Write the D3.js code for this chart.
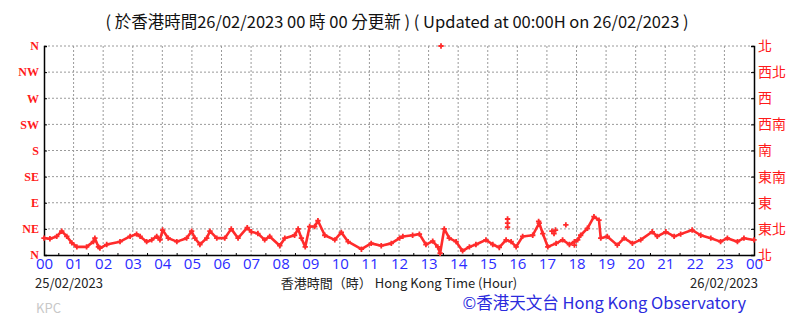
<!DOCTYPE html>
<html>
<head>
<meta charset="UTF-8">
<title>Wind direction KPC</title>
<script src="https://d3js.org/d3.v7.min.js"></script>
<style>
  body { margin:0; background:#fff; }
  svg text { font-family: "Noto Sans CJK TC", "Noto Sans", sans-serif; }
</style>
</head>
<body>
<div id="chart"></div>
<script>
// hours after 00:00 on 25/02/2023, wind direction in degrees
const hours = [0.00,0.20,0.43,0.60,0.77,0.94,1.11,1.44,1.67,1.72,1.84,1.89,2.12,2.57,2.91,3.13,3.25,3.47,3.64,3.81,3.92,
  4.01,4.20,4.49,4.82,4.99,5.10,5.27,5.50,5.61,5.84,6.11,6.33,6.56,6.87,7.01,7.23,7.46,7.63,7.97,8.14,8.47,8.59,8.70,8.83,
  8.98,9.15,9.26,9.49,9.83,10.05,10.28,10.73,11.06,11.40,11.74,12.02,12.13,12.46,12.69,12.91,13.14,13.31,13.39,13.53,13.70,
  13.93,14.15,14.38,14.60,14.94,15.17,15.39,15.62,15.79,15.96,16.18,16.52,16.74,16.86,17.03,17.31,17.53,17.76,18.04,18.14,
  18.37,18.59,18.76,18.82,19.04,19.38,19.61,19.89,20.17,20.56,20.73,21.02,21.30,21.52,21.91,22.20,22.54,22.87,23.10,23.44,
  23.66,24.00];
const direction = [29,28,32,41,32,21,14,14,23,29,14,12,18,23,32,36,32,23,26,32,26,
  43,29,23,29,41,29,18,29,41,29,29,45,29,47,40,37,26,32,16,29,34,45,29,14,
  49,49,59,34,26,39,23,10,20,16,20,29,32,34,36,18,24,14,3,45,29,
  23,7,14,18,26,18,13,26,23,14,32,34,55,37,14,20,26,18,26,34,
  46,66,60,29,32,17,29,20,26,40,32,40,32,36,43,34,29,23,29,23,
  29,26];
// isolated readings away from the main trace
const outlierHours = [13.42,15.67,15.67,15.67,16.72,17.17,17.24,17.29,17.64,17.93,17.93];
const outlierDirection = [360,62,55,48,58,41,37,43,52,17,23];

const dirLabels = ['N','NE','E','SE','S','SW','W','NW','N'];
const dirLabelsZh = ['北','東北','東','東南','南','西南','西','西北','北'];
const hourLabels = ['00','01','02','03','04','05','06','07','08','09','10','11','12',
  '13','14','15','16','17','18','19','20','21','22','23','00'];

const W = 804, H = 317;
const margin = {top:46, right:50, bottom:62, left:44};
const width = W - margin.left - margin.right,
      height = H - margin.top - margin.bottom;

const svg = d3.select('#chart').append('svg')
  .attr('width', W).attr('height', H);

const g = svg.append('g').attr('transform', `translate(${margin.left},${margin.top})`);

const x = d3.scaleLinear().domain([0,24]).range([0,width]);
const y = d3.scaleLinear().domain([0,360]).range([height,0]);

const red = '#ff2b2b';

// grid
g.append('g').selectAll('line')
  .data(d3.range(1,24))
  .enter().append('line')
  .attr('x1', d=>x(d)).attr('x2', d=>x(d))
  .attr('y1', 0).attr('y2', height)
  .attr('stroke','#9a9a9a').attr('stroke-dasharray','2,2');
g.append('g').selectAll('line')
  .data(d3.range(45,361,45))
  .enter().append('line')
  .attr('x1', 0).attr('x2', width)
  .attr('y1', d=>y(d)).attr('y2', d=>y(d))
  .attr('stroke','#9a9a9a').attr('stroke-dasharray','2,2');

// axes
const xAxis = d3.axisBottom(x).tickValues(d3.range(0,24.01,1))
  .tickFormat((d,i)=>hourLabels[i]).tickSize(0).tickPadding(3);
const gx = g.append('g').attr('transform',`translate(0,${height})`).call(xAxis);
gx.select('.domain').attr('stroke','#000').attr('stroke-width',1.5);
gx.selectAll('text').attr('fill','#2b2bff').style('font-family','"Open Sans", "Noto Sans", sans-serif').style('font-size','15px');

// half hour minor ticks
g.append('g').selectAll('line')
  .data(d3.range(0.5,24,1))
  .enter().append('line')
  .attr('x1', d=>x(d)).attr('x2', d=>x(d))
  .attr('y1', height).attr('y2', height-2)
  .attr('stroke','#000');

const yAxisL = d3.axisLeft(y).tickValues(d3.range(0,361,45))
  .tickFormat((d,i)=>dirLabels[i]).tickSize(-3).tickPadding(5);
const gyl = g.append('g').call(yAxisL);
gyl.select('.domain').attr('stroke','#000').attr('stroke-width',1.5);
gyl.selectAll('text').attr('fill','#ff1a1a')
  .style('font-family','"Liberation Serif", "DejaVu Serif", serif').style('font-size','12px')
  .style('font-weight','bold');

const yAxisR = d3.axisRight(y).tickValues(d3.range(0,361,45))
  .tickFormat((d,i)=>dirLabelsZh[i]).tickSize(-3).tickPadding(4);
const gyr = g.append('g').attr('transform',`translate(${width},0)`).call(yAxisR);
gyr.select('.domain').attr('stroke','#000').attr('stroke-width',1.5);
gyr.selectAll('text').attr('fill','#ff1a1a').style('font-size','14px');

// data
const pts = hours.map((h,i)=>({h, d:direction[i]}));
g.append('path').datum(pts)
  .attr('fill','none').attr('stroke',red).attr('stroke-width',2.6)
  .attr('stroke-linejoin','round')
  .attr('d', d3.line().x(p=>x(p.h)).y(p=>y(p.d)));

const plus = d3.symbol().type(d3.symbolCross).size(16);
g.append('g').selectAll('path')
  .data(pts.concat(outlierHours.map((h,i)=>({h, d:outlierDirection[i]}))))
  .enter().append('path')
  .attr('transform', p=>`translate(${x(p.h)},${y(p.d)})`)
  .attr('d', plus).attr('fill',red);

// texts
svg.append('text').attr('x',397).attr('y',28).attr('text-anchor','middle')
  .style('font-size','16.5px').attr('fill','#111')
  .text('( 於香港時間26/02/2023 00 時 00 分更新 )  ( Updated at 00:00H on 26/02/2023 )');
svg.append('text').attr('x',35).attr('y',288)
  .style('font-size','13px').attr('fill','#222').text('25/02/2023');
svg.append('text').attr('x',758).attr('y',288).attr('text-anchor','end')
  .style('font-size','13px').attr('fill','#222').text('26/02/2023');
svg.append('text').attr('x',399).attr('y',288).attr('text-anchor','middle')
  .style('font-size','13px').attr('fill','#222').text('香港時間（時） Hong Kong Time (Hour)');
svg.append('text').attr('x',36).attr('y',313)
  .style('font-size','13px').attr('fill','#c8c8c8').text('KPC');
svg.append('text').attr('x',746).attr('y',309).attr('text-anchor','end')
  .style('font-size','16.5px').attr('fill','#2b2bdd').text('©香港天文台 Hong Kong Observatory');
</script>
</body>
</html>
